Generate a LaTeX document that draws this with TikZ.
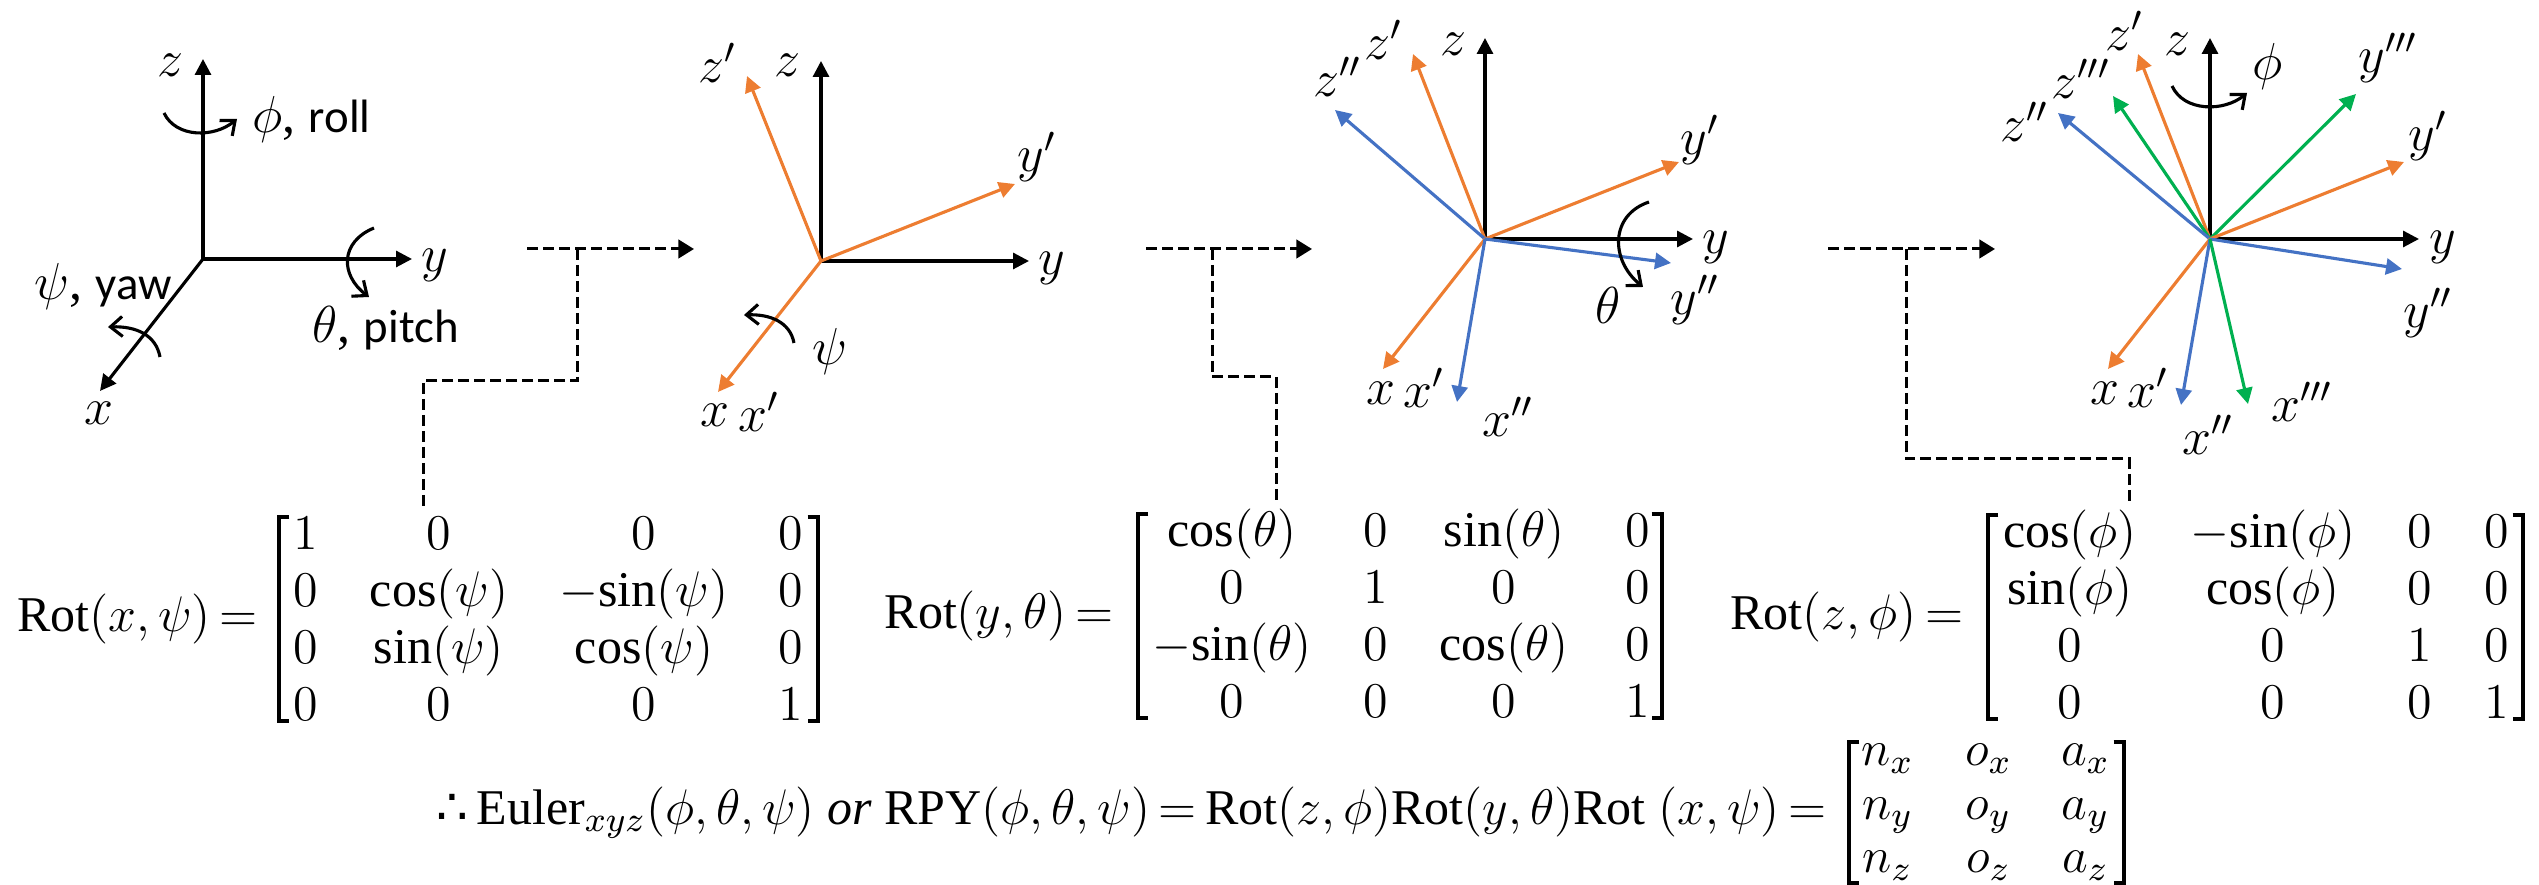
\RequirePackage{fix-cm}
\documentclass[tikz,border=0pt]{standalone}
\usepackage{amsmath}
\usepackage{array}
\usepackage{fontspec}
\setmainfont{Liberation Serif}
\newfontfamily\labelfont[Scale=0.9]{Carlito}
\newfontfamily\symfont{DejaVu Sans}
\usetikzlibrary{arrows.meta, positioning}
\definecolor{axisorange}{HTML}{ED7D31}
\definecolor{axisblue}{HTML}{4472C4}
\definecolor{axisgreen}{HTML}{00B050}
\thickmuskip=3mu
\newcommand{\brackets}[1]{
  \draw[brk] ([xshift=2.6pt]#1.north west) -- (#1.north west) -- (#1.south west) -- ([xshift=2.6pt]#1.south west);
  \draw[brk] ([xshift=-2.6pt]#1.north east) -- (#1.north east) -- (#1.south east) -- ([xshift=-2.6pt]#1.south east);
}

\begin{document}
\begin{tikzpicture}[
  x=0.25pt, y=-0.25pt,
  lab/.style={inner sep=0pt, font=\fontsize{13}{16}\selectfont},
  eqn/.style={inner sep=0pt, font=\fontsize{12.5}{14.25}\selectfont},
  mat/.style={inner sep=0pt, outer sep=0pt, text height=29.75pt, text depth=21.25pt, font=\fontsize{12.5}{14.25}\selectfont},
  ax/.style={line width=0.78pt, -{Triangle[length=4pt, width=4pt]}},
  blackax/.style={ax, black},
  orangeax/.style={ax, axisorange},
  blueax/.style={ax, axisblue},
  greenax/.style={ax, axisgreen},
  turn/.style={line width=0.78pt, -{Straight Barb[length=3pt, width=5pt, line width=0.78pt]}},
  dashline/.style={line width=0.75pt, dash pattern=on 2.75pt off 1.25pt},
  brk/.style={line width=0.85pt, line cap=butt}
]
\useasboundingbox (0,0) rectangle (2539,885);

\coordinate (oa) at (203,259);
\coordinate (zaa) at (203,59);
\coordinate (yaa) at (412,259);
\coordinate (xaa) at (100,391);
\node[lab] (zlaba) at (170,65) {$z$};
\node[lab] (ylaba) at (435,265) {$y$};
\node[lab] (xlaba) at (99,413) {$x$};
\draw[blackax] (oa) -- (zaa);
\draw[blackax] (oa) -- (yaa);
\draw[blackax] (oa) -- (xaa);
\coordinate (rolla) at (164,113);
\coordinate (rollb) at (237,119);
\coordinate (pitcha) at (374,228);
\coordinate (pitchb) at (369,297);
\coordinate (yawa) at (160,357);
\coordinate (yawb) at (108,327);
\draw[turn] (rolla) .. controls (176,138) and (214,138) .. (rollb);
\draw[turn] (pitcha) .. controls (340,242) and (340,275) .. (pitchb);
\draw[turn] (yawa) .. controls (156,335) and (136,326) .. (yawb);
\node[lab, anchor=west] (rolltxt) at (252,120) {$\phi$, {\labelfont roll}};
\node[lab, anchor=west] (pitchtxt) at (312,328) {$\theta$, {\labelfont pitch}};
\node[lab, anchor=west] (yawtxt) at (34,287) {$\psi$, {\labelfont yaw}};

\coordinate (da) at (527,249);
\coordinate (db) at (694,249);
\coordinate (dc) at (577,249);
\coordinate (dd) at (577,381);
\coordinate (de) at (423,381);
\coordinate (df) at (423,507);
\draw[dashline, -{Triangle[length=3.9pt, width=4.6pt]}] (da) -- (db);
\draw[dashline] (dc) -- (dd) -- (de) -- (df);

\coordinate (ob) at (821,261);
\coordinate (zab) at (821,61);
\coordinate (yab) at (1029,261);
\coordinate (zpb) at (747,76);
\coordinate (ypb) at (1015,184);
\coordinate (xab) at (718,392);
\node[lab] (zlabb) at (787,65) {$z$};
\node[lab] (ylabb) at (1052,268) {$y$};
\node[lab] (zplabb) at (718,63) {$z'$};
\node[lab] (yplabb) at (1037,157) {$y'$};
\node[lab] (xlabb) at (715,415) {$x$};
\node[lab] (xplabb) at (759,412) {$x'$};
\node[lab] (psilab) at (830,352) {$\psi$};
\draw[blackax] (ob) -- (zab);
\draw[blackax] (ob) -- (yab);
\draw[orangeax] (ob) -- (zpb);
\draw[orangeax] (ob) -- (ypb);
\draw[orangeax] (ob) -- (xab);
\coordinate (psia) at (794,343);
\coordinate (psib) at (744,315);
\draw[turn] (psia) .. controls (790,322) and (770,314) .. (psib);

\coordinate (dga) at (1146,249);
\coordinate (dgb) at (1312,249);
\coordinate (dgc) at (1212,249);
\coordinate (dgd) at (1212,377);
\coordinate (dge) at (1276,377);
\coordinate (dgf) at (1276,503);
\draw[dashline, -{Triangle[length=3.9pt, width=4.6pt]}] (dga) -- (dgb);
\draw[dashline] (dgc) -- (dgd) -- (dge) -- (dgf);

\coordinate (oc) at (1485,239);
\coordinate (zac) at (1485,38);
\coordinate (yac) at (1693,239);
\coordinate (zpc) at (1413,54);
\coordinate (zsc) at (1335,110);
\coordinate (ypc) at (1679,162);
\coordinate (ysc) at (1671,263);
\coordinate (xac) at (1383,369);
\coordinate (xsc) at (1457,402);
\node[lab] (zlabc) at (1453,44) {$z$};
\node[lab] (zplabc) at (1384,40) {$z'$};
\node[lab] (zslabc) at (1338,77) {$z''$};
\node[lab] (yplabc) at (1700,140) {$y'$};
\node[lab] (ylabc) at (1716,247) {$y$};
\node[lab] (yslabc) at (1695,300) {$y''$};
\node[lab] (xlabc) at (1381,393) {$x$};
\node[lab] (xplabc) at (1424,388) {$x'$};
\node[lab] (xslabc) at (1508,417) {$x''$};
\node[lab] (thetalab) at (1608,305) {$\theta$};
\draw[blackax] (oc) -- (zac);
\draw[blackax] (oc) -- (yac);
\draw[orangeax] (oc) -- (zpc);
\draw[blueax] (oc) -- (zsc);
\draw[orangeax] (oc) -- (ypc);
\draw[blueax] (oc) -- (ysc);
\draw[orangeax] (oc) -- (xac);
\draw[blueax] (oc) -- (xsc);
\coordinate (thetaa) at (1649,202);
\coordinate (thetab) at (1643,287);
\draw[turn] (thetaa) .. controls (1610,215) and (1610,260) .. (thetab);

\coordinate (dha) at (1828,249);
\coordinate (dhb) at (1995,249);
\coordinate (dhc) at (1906,249);
\coordinate (dhd) at (1906,459);
\coordinate (dhe) at (2129,459);
\coordinate (dhf) at (2129,505);
\draw[dashline, -{Triangle[length=3.9pt, width=4.6pt]}] (dha) -- (dhb);
\draw[dashline] (dhc) -- (dhd) -- (dhe) -- (dhf);

\coordinate (od) at (2210,239);
\coordinate (zad) at (2210,38);
\coordinate (yad) at (2419,239);
\coordinate (zpd) at (2138,54);
\coordinate (ztd) at (2113,96);
\coordinate (zsd) at (2058,113);
\coordinate (ytd) at (2356,94);
\coordinate (ypd) at (2404,162);
\coordinate (ysd) at (2402,269);
\coordinate (xad) at (2108,369);
\coordinate (xsd) at (2181,405);
\coordinate (xtd) at (2248,404);
\node[lab] (zlabd) at (2177,44) {$z$};
\node[lab] (zplabd) at (2125,31) {$z'$};
\node[lab] (ztlabd) at (2081,79) {$z'''$};
\node[lab] (zslabd) at (2025,122) {$z''$};
\node[lab] (ytlabd) at (2388,58) {$y'''$};
\node[lab] (yplabd) at (2428,136) {$y'$};
\node[lab] (ylabd) at (2443,247) {$y$};
\node[lab] (yslabd) at (2428,313) {$y''$};
\node[lab] (xlabd) at (2105,393) {$x$};
\node[lab] (xplabd) at (2148,388) {$x'$};
\node[lab] (xtlabd) at (2302,402) {$x'''$};
\node[lab] (xslabd) at (2208,435) {$x''$};
\node[lab] (philab) at (2268,67) {$\phi$};
\draw[blackax] (od) -- (zad);
\draw[blackax] (od) -- (yad);
\draw[orangeax] (od) -- (zpd);
\draw[greenax] (od) -- (ztd);
\draw[blueax] (od) -- (zsd);
\draw[greenax] (od) -- (ytd);
\draw[orangeax] (od) -- (ypd);
\draw[blueax] (od) -- (ysd);
\draw[orangeax] (od) -- (xad);
\draw[blueax] (od) -- (xsd);
\draw[greenax] (od) -- (xtd);
\coordinate (phia) at (2172,86);
\coordinate (phib) at (2247,93);
\draw[turn] (phia) .. controls (2184,112) and (2224,112) .. (phib);

\node[mat, minimum width=134.75pt] (rotx) at (548.5,619) {$\begin{array}{@{}w{c}{7pt}@{\hspace{12.25pt}}w{c}{35pt}@{\hspace{12.5pt}}w{c}{42.5pt}@{\hspace{12pt}}w{c}{7pt}@{}}
1 & 0 & 0 & 0\\
0 & \cos(\psi) & {-}\!\sin(\psi) & 0\\
0 & \sin(\psi) & \cos(\psi) & 0\\
0 & 0 & 0 & 1
\end{array}$};
\brackets{rotx}
\node[eqn, left=5.25pt of rotx] (rotxeq) {$\mathrm{Rot}(x,\psi)=$};

\node[mat, minimum width=131pt] (roty) at (1400,616) {$\begin{array}{@{}w{c}{42pt}@{\hspace{11.5pt}}w{c}{7pt}@{\hspace{12.75pt}}w{c}{31.5pt}@{\hspace{14.25pt}}w{c}{7pt}@{}}
\cos(\theta) & 0 & \sin(\theta) & 0\\
0 & 1 & 0 & 0\\
{-}\!\sin(\theta) & 0 & \cos(\theta) & 0\\
0 & 0 & 0 & 1
\end{array}$};
\brackets{roty}
\node[eqn, left=6pt of roty] (rotyeq) {$\mathrm{Rot}(y,\theta)=$};

\node[mat, minimum width=133.75pt] (rotz) at (2255.5,617) {$\begin{array}{@{}w{c}{35pt}@{\hspace{12pt}}w{c}{42.5pt}@{\hspace{12pt}}w{c}{7pt}@{\hspace{12.25pt}}w{c}{7pt}@{}}
\cos(\phi) & {-}\!\sin(\phi) & 0 & 0\\
\sin(\phi) & \cos(\phi) & 0 & 0\\
0 & 0 & 1 & 0\\
0 & 0 & 0 & 1
\end{array}$};
\brackets{rotz}
\node[eqn, left=6pt of rotz] (rotzeq) {$\mathrm{Rot}(z,\phi)=$};

\node[mat, minimum width=68.75pt, text height=19.7pt, text depth=15.5pt, font=\fontsize{12.5}{13.4}\selectfont] (noa) at (1986.5,812.5) {$\begin{array}{@{}w{c}{10pt}@{\hspace{15.25pt}}w{c}{10pt}@{\hspace{14.25pt}}w{c}{10pt}@{}}
n_x & o_x & a_x\\
n_y & o_y & a_y\\
n_z & o_z & a_z
\end{array}$};
\brackets{noa}
\node[eqn, left=5.5pt of noa] (euler) {{\symfont ∴}\,$\mathrm{Euler}_{xyz}(\phi,\theta,\psi)$ \textit{or} $\mathrm{RPY}(\phi,\theta,\psi)=\mathrm{Rot}(z,\phi)\mathrm{Rot}(y,\theta)\mathrm{Rot}\ (x,\psi)=$};
\end{tikzpicture}
\end{document}
